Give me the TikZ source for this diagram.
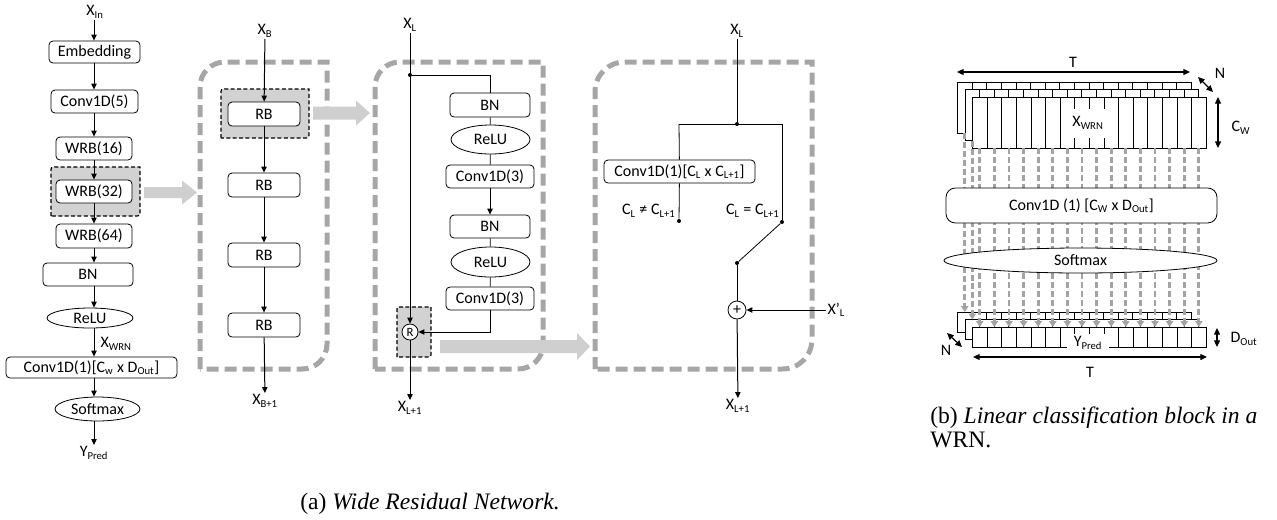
\documentclass[tikz,border=0pt]{standalone}
\usepackage{fontspec}
\setmainfont{Carlito}
\newfontfamily\capfont{Liberation Serif}
\usetikzlibrary{arrows.meta,shapes.geometric,calc}
\definecolor{dashgray}{HTML}{A6A6A6}
\definecolor{fatgray}{HTML}{CFCFCF}
\definecolor{hlgray}{HTML}{D2D2D2}
\definecolor{colgray}{HTML}{A3A3A3}
\begin{document}
\begin{tikzpicture}[x=0.75pt,y=-0.75pt,
  every node/.style={font=\fontsize{12}{14}\selectfont, inner sep=1pt},
  box/.style={draw, rounded corners=3pt, fill=white, line width=0.6pt, inner sep=0pt},
  ell/.style={draw, ellipse, fill=white, line width=0.6pt, inner sep=0pt},
  lbl/.style={inner sep=1pt},
  arr/.style={line width=0.75pt, -{Triangle[length=4.5pt,width=4pt]}},
  ln/.style={line width=0.6pt},
  bigbox/.style={draw=dashgray, line width=3.75pt, dash pattern=on 9pt off 4.5pt},
  hlbox/.style={draw=black, fill=hlgray, line width=0.9pt, dash pattern=on 3pt off 1.8pt},
  fatarrow/.style={fill=fatgray},
  colarr/.style={draw=colgray, line width=2pt, dash pattern=on 4.5pt off 2.2pt, -{Triangle[length=4.5pt,width=5.5pt]}},
  dblarr/.style={line width=0.9pt, {Triangle[length=5pt,width=4.5pt]}-{Triangle[length=5pt,width=4.5pt]}},
  dot/.style={circle, fill=black, inner sep=0pt, minimum size=3pt},
  opc/.style={draw, circle, fill=white, line width=0.6pt, inner sep=0pt}
]
\useasboundingbox (0,0) rectangle (1277,519);

% ---------- big dashed containers ----------
\draw[bigbox] (200,369) -- (200,87) .. controls (200,73) and (211,62) .. (225,62) -- (327,62) -- (327,344) .. controls (327,358) and (316,369) .. (302,369) -- cycle;
\draw[bigbox] (375,369) -- (375,87) .. controls (375,73) and (386,62) .. (400,62) -- (543,62) -- (543,344) .. controls (543,358) and (532,369) .. (518,369) -- cycle;
\draw[bigbox] (595,369) -- (595,92) .. controls (595,75) and (608,62) .. (625,62) -- (812,62) -- (812,339) .. controls (812,356) and (799,369) .. (782,369) -- cycle;

% ---------- highlight boxes ----------
\draw[hlbox] (51,216) -- (51,172) .. controls (51,167) .. (56,167) -- (140,167) -- (140,210) .. controls (140,216) .. (134,216) -- cycle;
\draw[hlbox] (221,138) -- (221,94) .. controls (221,89) .. (226,89) -- (309,89) -- (309,132) .. controls (309,138) .. (303,138) -- cycle;
\draw[hlbox] (397,357) -- (397,311) .. controls (397,307) .. (401,307) -- (431,307) -- (431,352) .. controls (431,357) .. (426,357) -- cycle;

% ---------- fat gray arrows ----------
\fill[fatarrow] (144,187) -- (182,187) -- (182,180.5) -- (197,192.5) -- (182,204.5) -- (182,198) -- (144,198) -- cycle;
\fill[fatarrow] (313,106.5) -- (356,106.5) -- (356,100.5) -- (370,113) -- (356,125.5) -- (356,119.5) -- (313,119.5) -- cycle;
\fill[fatarrow] (440,340) -- (577,340) -- (577,333) -- (590,346.5) -- (577,360) -- (577,353) -- (440,353) -- cycle;

% ---------- column 1: WRN ----------
\coordinate (c1) at (94,0);
\node[lbl] (xin) at (95,12) {X\textsubscript{In}};
\node[box, minimum width=68.25pt, minimum height=16.5pt] (emb) at (94.5,52) {Embedding};
\node[box, minimum width=65.25pt, minimum height=17.25pt] (conv5) at (94.5,101.5) {Conv1D(5)};
\node[box, minimum width=57pt, minimum height=17.25pt] (wrb16) at (94,148.5) {WRB(16)};
\node[box, minimum width=57pt, minimum height=17.25pt] (wrb32) at (94,191.5) {WRB(32)};
\node[box, minimum width=57pt, minimum height=18pt] (wrb64) at (94,236) {WRB(64)};
\node[box, minimum width=67.5pt, minimum height=17.25pt] (bn) at (88,274.5) {BN};
\node[ell, minimum width=64.5pt, minimum height=15pt] (relu) at (90,318) {ReLU};
\node[lbl, anchor=west] (xwrn) at (99,344) {X\textsubscript{WRN}};
\node[box, minimum width=128.25pt, minimum height=15.75pt] (convc) at (91.5,367.5) {Conv1D(1)[C\textsubscript{w} x D\textsubscript{Out}]};
\node[ell, minimum width=63.75pt, minimum height=18pt] (soft) at (97.5,409) {Softmax};
\node[lbl] (ypred) at (94,453) {Y\textsubscript{Pred}};

\draw[arr] (xin.south -| c1) -- (emb.north -| c1);
\draw[arr] (emb.south -| c1) -- (conv5.north -| c1);
\draw[arr] (conv5.south -| c1) -- (wrb16.north -| c1);
\draw[arr] (wrb16.south -| c1) -- (wrb32.north -| c1);
\draw[arr] (wrb32.south -| c1) -- (wrb64.north -| c1);
\draw[arr] (wrb64.south -| c1) -- (bn.north -| c1);
\draw[arr] (bn.south -| c1) -- (relu.north -| c1);
\draw[arr] (relu.south -| c1) -- (convc.north -| c1);
\draw[arr] (convc.south -| c1) -- (soft.north -| c1);
\draw[arr] (soft.south -| c1) -- (ypred.north -| c1);

% ---------- column 2: WRB ----------
\node[lbl] (xb) at (265,31) {X\textsubscript{B}};
\node[box, minimum width=54pt, minimum height=18pt] (rb1) at (264,114) {RB};
\node[box, minimum width=54pt, minimum height=18pt] (rb2) at (264,185) {RB};
\node[box, minimum width=54pt, minimum height=18pt] (rb3) at (264,255) {RB};
\node[box, minimum width=54pt, minimum height=18pt] (rb4) at (264,325) {RB};
\node[lbl] (xb1) at (265,401) {X\textsubscript{B+1}};
\draw[arr] (xb) -- (rb1);
\draw[arr] (rb1) -- (rb2);
\draw[arr] (rb2) -- (rb3);
\draw[arr] (rb3) -- (rb4);
\draw[arr] (rb4) -- (xb1);

% ---------- column 3: RB ----------
\node[lbl] (xl) at (410,25) {X\textsubscript{L}};
\node[dot] (j1) at (410,75) {};
\node[box, minimum width=60pt, minimum height=18pt] (rbn1) at (490,105) {BN};
\node[ell, minimum width=59.25pt, minimum height=21.75pt] (rrelu1) at (490.5,139.5) {ReLU};
\node[box, minimum width=66pt, minimum height=17.25pt] (rconv1) at (490,176.5) {Conv1D(3)};
\node[box, minimum width=60pt, minimum height=17.25pt] (rbn2) at (490,226.5) {BN};
\node[ell, minimum width=59.25pt, minimum height=22.5pt] (rrelu2) at (490.5,262) {ReLU};
\node[box, minimum width=66pt, minimum height=17.25pt] (rconv2) at (490,298.5) {Conv1D(3)};
\node[opc, minimum size=12pt, font=\fontsize{9.5}{10}\selectfont] (rc) at (410,332) {R};
\node[lbl] (xl1) at (410,408) {X\textsubscript{L+1}};
\draw[arr] (xl) -- (rc);
\draw[ln] (j1) -| (rbn1);
\draw[ln] (rbn1) -- (rrelu1);
\draw[ln] (rrelu1) -- (rconv1);
\draw[arr] (rconv1) -- (rbn2);
\draw[ln] (rbn2) -- (rrelu2);
\draw[ln] (rrelu2) -- (rconv2);
\draw[arr] (rconv2) |- (rc);
\draw[arr] (rc) -- (xl1);

% ---------- column 4: shortcut ----------
\node[lbl] (xl4) at (737,31) {X\textsubscript{L}};
\node[dot] (j2) at (737,124) {};
\coordinate (a1) at (679,124);
\coordinate (a2) at (782,124);
\node[box, minimum width=113.25pt, minimum height=17.25pt] (sconv) at (679.5,171.5) {Conv1D(1)[C\textsubscript{L} x C\textsubscript{L+1}]};
\node[dot] (d1) at (679,221) {};
\node[dot] (d2) at (782,222) {};
\node[dot] (d3) at (737,263) {};
\node[lbl, anchor=east] (cne) at (677,211) {C\textsubscript{L} ≠ C\textsubscript{L+1}};
\node[lbl, anchor=east] (ceq) at (781,211) {C\textsubscript{L} = C\textsubscript{L+1}};
\node[opc, minimum size=13.5pt] (pl) at (737,310) {+};
\node[lbl, anchor=west] (xpl) at (826,310) {X’\textsubscript{L}};
\node[lbl] (xl41) at (738,406) {X\textsubscript{L+1}};
\draw[ln] (xl4) -- (j2);
\draw[ln] (a1) -- (a2);
\draw[ln] (a1) -- (sconv);
\draw[ln] (sconv) -- (d1);
\draw[ln] (a2) -- (d2);
\draw[ln] (d2) -- (d3);
\draw[ln] (d3) -- (pl);
\draw[arr] (xpl) -- (pl);
\draw[arr] (pl) -- (xl41);

% ---------- part (b) ----------
% X layers
\foreach \ox/\oy in {957.5/82, 965/89.5, 972.5/97} {
  \draw[ln, fill=white] (\ox,\oy) rectangle ++(233.6,51);
  \foreach \k in {1,...,15} \draw[ln] ({\ox+\k*14.6},\oy) -- ++(0,51);
}
% Y layers
\foreach \ox/\oy in {957.5/312, 965/319.5, 972.5/327} {
  \draw[ln, fill=white] (\ox,\oy) rectangle ++(233.6,20);
  \foreach \k in {1,...,15} \draw[ln] ({\ox+\k*14.6},\oy) -- ++(0,20);
}
% dashed column arrows
\draw[colarr] (964.8,133) -- (964.8,312);
\draw[colarr] (972.3,140.5) -- (972.3,319.5);
\foreach \k in {0,...,15} \draw[colarr] ({979.8+\k*14.6},148) -- ({979.8+\k*14.6},327);

\node[fill=white, inner xsep=1pt, minimum height=21.75pt] (xw) at (1088,123) {X\textsubscript{WRN}};
\node[fill=white, inner xsep=5pt, inner ysep=2pt] (yp) at (1088,343) {Y\textsubscript{Pred}};
\node[box, rounded corners=7pt, minimum width=203.25pt, minimum height=26.25pt] (bconv) at (1081.5,205.5) {Conv1D (1) [C\textsubscript{W} x D\textsubscript{Out}]};
\node[ell, minimum width=204.75pt, minimum height=18.75pt] (bsoft) at (1080.5,260.5) {Softmax};

\node[lbl] (tt) at (1073,62) {T};
\coordinate (tl) at (957,72); \coordinate (tr) at (1190,72);
\draw[dblarr] (tl) -- (tr);
\node[lbl] (nt) at (1220,73) {N};
\coordinate (n1) at (1198,77); \coordinate (n2) at (1213,92);
\draw[dblarr] (n1) -- (n2);
\coordinate (cw1) at (1218,97); \coordinate (cw2) at (1218,148);
\draw[dblarr] (cw1) -- (cw2);
\node[lbl] (cw) at (1241,128) {C\textsubscript{W}};

\node[lbl] (nb) at (946,350) {N};
\coordinate (n3) at (947,333); \coordinate (n4) at (962,347);
\draw[dblarr] (n3) -- (n4);
\coordinate (bl) at (973,357); \coordinate (br) at (1207,357);
\draw[dblarr] (bl) -- (br);
\node[lbl] (tb) at (1090,372) {T};
\coordinate (d5) at (1217,328); \coordinate (d6) at (1217,347);
\draw[dblarr] (d5) -- (d6);
\node[lbl, anchor=west] (dout) at (1229,339) {D\textsubscript{Out}};

% ---------- captions ----------
\node[anchor=base west, inner sep=0pt, font=\capfont\fontsize{17.7}{20}\selectfont] (capa) at (300,509) {(a) \textit{Wide Residual Network.}};
\node[anchor=base west, inner sep=0pt, font=\capfont\fontsize{17.7}{20}\selectfont] (capb1) at (930,423) {(b) \textit{Linear classification block in a}};
\node[anchor=base west, inner sep=0pt, font=\capfont\fontsize{17.7}{20}\selectfont] (capb2) at (930,447) {WRN.};
\end{tikzpicture}
\end{document}
